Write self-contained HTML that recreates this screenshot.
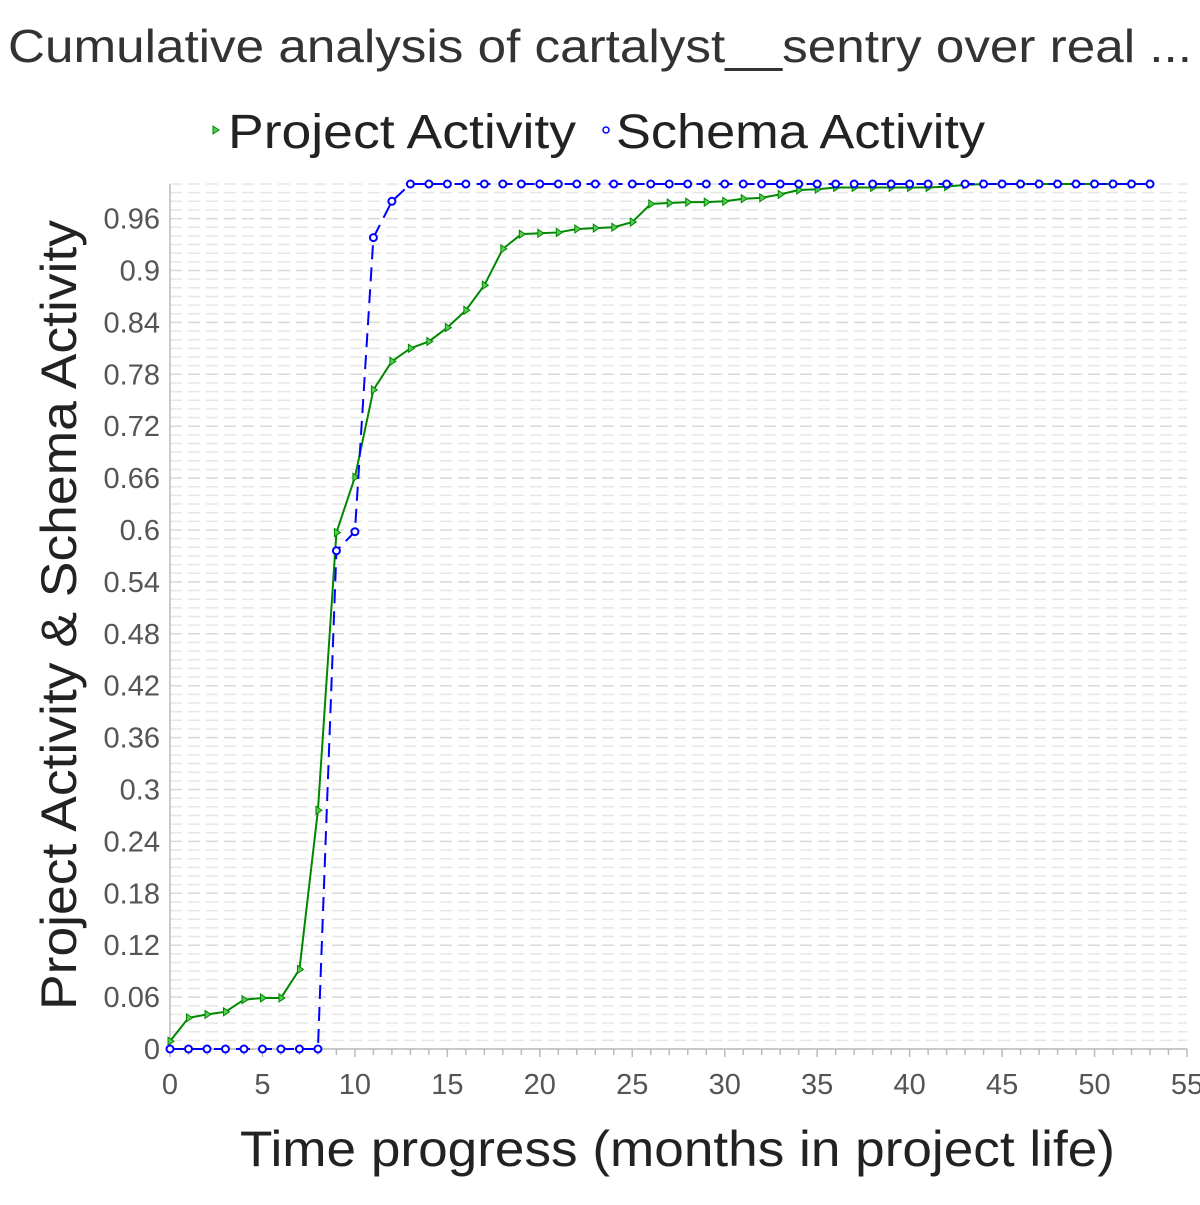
<!DOCTYPE html>
<html><head><meta charset="utf-8"><style>
body{margin:0;background:#fff;}
svg text{font-family:"Liberation Sans",sans-serif;}
</style></head><body>
<svg id="chart" width="1200" height="1200" xmlns="http://www.w3.org/2000/svg">
<text x="8" y="62" textLength="1184" lengthAdjust="spacingAndGlyphs" font-size="46" fill="#333">Cumulative analysis of cartalyst__sentry over real ...</text>
<g>
<g><path d="M213,126 L219,130 L213,134 Z" fill="#5c5" stroke="#080"/><text x="228" y="148" textLength="348" lengthAdjust="spacingAndGlyphs" font-size="48" fill="#222">Project Activity</text></g>
<g><circle cx="606" cy="130" r="3" fill="none" stroke="#00f" stroke-width="1.5"/><text x="616" y="148" textLength="369" lengthAdjust="spacingAndGlyphs" font-size="48" fill="#222">Schema Activity</text></g>
</g>
<g id="grid"></g><g id="axes"></g><g id="series"></g>
<text x="240" y="1166" textLength="875" lengthAdjust="spacingAndGlyphs" font-size="50" fill="#222">Time progress (months in project life)</text>
<text transform="translate(76,1010) rotate(-90)" textLength="790" lengthAdjust="spacingAndGlyphs" font-size="50" fill="#222">Project Activity &amp; Schema Activity</text>
</svg>
<script>
const months = Array.from({length:54},(_,i)=>i);
const projectValues = [0.009,0.036,0.040,0.043,0.057,0.059,0.059,0.092,0.276,0.597,0.661,0.762,0.795,0.810,0.818,0.834,0.854,0.883,0.925,0.942,0.943,0.944,0.948,0.949,0.950,0.956,0.977,0.978,0.979,0.979,0.980,0.983,0.984,0.988,0.993,0.994,0.996,0.996,0.996,0.996,0.996,0.996,0.997,0.999,1,1,1,1,1,1,1,1,1,1];
const schemaValues = [0,0,0,0,0,0,0,0,0,0.576,0.598,0.938,0.980,1,1,1,1,1,1,1,1,1,1,1,1,1,1,1,1,1,1,1,1,1,1,1,1,1,1,1,1,1,1,1,1,1,1,1,1,1,1,1,1,1];
const xTicks = [0,5,10,15,20,25,30,35,40,45,50,55];
const yTicks = [0,0.06,0.12,0.18,0.24,0.3,0.36,0.42,0.48,0.54,0.6,0.66,0.72,0.78,0.84,0.9,0.96];
const NS="http://www.w3.org/2000/svg";
const X0=170,X1=1187,Y0=1049,Y1=184;
const xs=v=>X0+(X1-X0)*v/55;
const ys=v=>Y0-(Y0-Y1)*v/1;
function mk(tag,attrs,parent){const e=document.createElementNS(NS,tag);for(const k in attrs)e.setAttribute(k,attrs[k]);parent.appendChild(e);return e;}
const grid=document.getElementById('grid'),axes=document.getElementById('axes'),ser=document.getElementById('series');
for(let i=0;i<=100;i++){const y=ys(i/100);
 const l=mk('line',{x1:X0,x2:X1,y1:y,y2:y,stroke:i%6==0?'#d8d8d8':'#e6e6e6','stroke-width':1.5,'stroke-dasharray':'12 6'},grid);
 
 }
for(let m=0;m<=55;m++){const x=xs(m);
 const t=mk('line',{x1:x,x2:x,y1:Y0,y2:Y0+(m%5==0?8:6),stroke:'#bbb','stroke-width':1.5},axes);
 
 }
const ax=mk('line',{x1:X0,x2:X1,y1:Y0,y2:Y0,stroke:'#bbb','stroke-width':1.5},axes);


const ay=mk('line',{x1:X0,x2:X0,y1:Y1,y2:Y0,stroke:'#bbb','stroke-width':1.5},axes);


xTicks.forEach(v=>{const t=mk('text',{x:xs(v),y:1094,'text-anchor':'middle','font-size':29,fill:'#555'},axes);t.textContent=v;
 
 });
yTicks.forEach(v=>{const t=mk('text',{x:160,y:ys(v)+10,'text-anchor':'end','font-size':29,fill:'#555'},axes);t.textContent=v;
 
 });
const pp=mk('polyline',{points:months.map((m,i)=>xs(m)+','+ys(projectValues[i])).join(' '),fill:'none',stroke:'#080','stroke-width':2},ser);


months.forEach((m,i)=>{const x=xs(m),y=ys(projectValues[i]);
 const p=mk('path',{d:`M${x-2},${y-4} L${x+4},${y} L${x-2},${y+4} Z`,fill:'#5c5',stroke:'#080','stroke-width':1},ser);
 
 });
const sp=mk('polyline',{points:months.map((m,i)=>xs(m)+','+ys(schemaValues[i])).join(' '),fill:'none',stroke:'#00f','stroke-width':2,'stroke-dasharray':'14 8'},ser);


months.forEach((m,i)=>{
 const c=mk('circle',{cx:xs(m),cy:ys(schemaValues[i]),r:3.5,fill:'#fff',stroke:'#00f','stroke-width':2},ser);
 
 });
</script>
</body></html>
